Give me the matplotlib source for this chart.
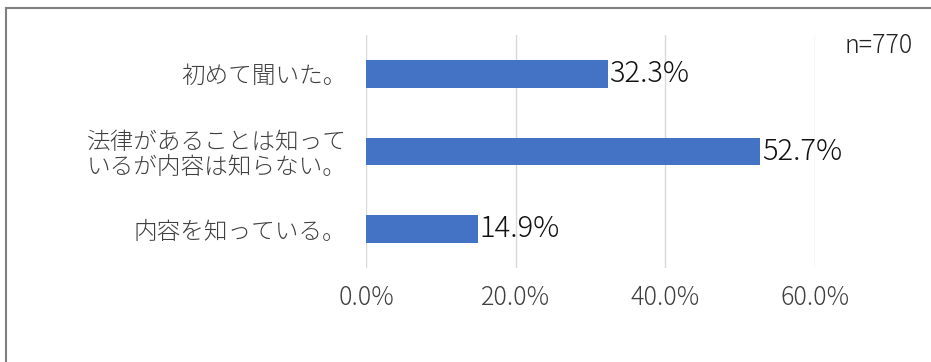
import matplotlib.pyplot as plt
from matplotlib.lines import Line2D

plt.rcParams['font.family'] = ['Noto Sans CJK JP', 'DejaVu Sans']
plt.rcParams['font.weight'] = 'light'

categories = ['初めて聞いた。',
              '法律があることは知って\nいるが内容は知らない。',
              '内容を知っている。']
values = [32.3, 52.7, 14.9]
xticks = [0, 20, 40, 60]
xtick_labels = ['0.0%', '20.0%', '40.0%', '60.0%']
note = 'n=770'

fig = plt.figure(figsize=(9.31, 3.62), dpi=100)
ax = fig.add_axes([366 / 931, 1 - 268 / 362, (815 - 366) / 931, (268 - 35) / 362])

ypos = list(range(len(categories)))
ax.barh(ypos, values, height=0.36, color='#4472C4', zorder=3)
for y, v in zip(ypos, values):
    ax.text(v + 0.2, y, f'{v:.1f}%', va='center', ha='left',
            fontsize=21, color='#111111', zorder=4)

ax.set_xlim(0, 60)
ax.set_ylim(len(categories) - 0.5, -0.5)
ax.set_xticks(xticks)
ax.set_xticklabels(xtick_labels, fontsize=18, color='#404040')
ax.set_yticks(ypos)
ax.set_yticklabels(categories, fontsize=17, color='#404040',
                   multialignment='center', linespacing=1.0)
ax.tick_params(axis='both', length=0)
ax.tick_params(axis='x', pad=12)
ax.tick_params(axis='y', pad=14)
ax.grid(axis='x', color='#d9d9d9', linewidth=1, zorder=0)
for s in ax.spines.values():
    s.set_visible(False)

fig.text(913 / 931, 1 - 46 / 362, note, ha='right', va='center',
         fontsize=18, color='#222222')

# chart frame, only top and left edges are visible
fig.add_artist(Line2D([5.5 / 931, 1], [1 - 8 / 362, 1 - 8 / 362],
                      transform=fig.transFigure, color='#808080', linewidth=1.5))
fig.add_artist(Line2D([5.5 / 931, 5.5 / 931], [0, 1 - 8 / 362],
                      transform=fig.transFigure, color='#808080', linewidth=1.5))

fig.savefig('out.png', dpi=100)
